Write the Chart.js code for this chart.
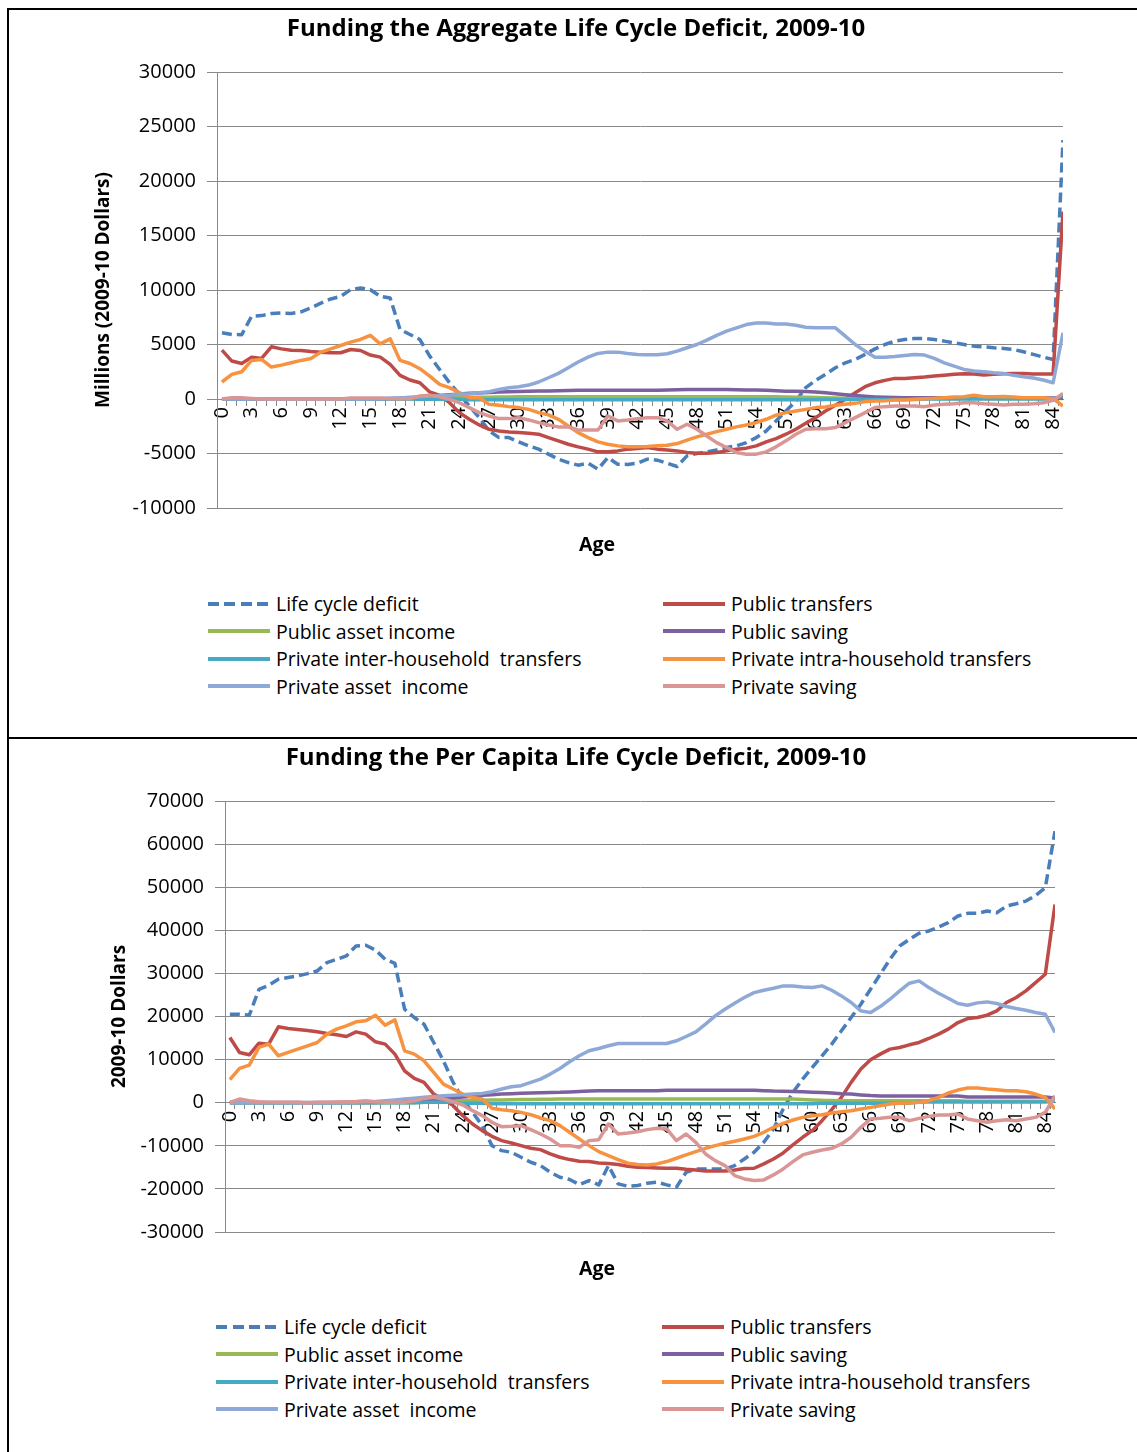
<!DOCTYPE html>
<html lang="en">
<head>
<meta charset="UTF-8">
<title>Funding the Life Cycle Deficit, 2009-10</title>
<style>
  * { margin: 0; padding: 0; box-sizing: border-box; }
  body {
    width: 1137px;
    height: 1452px;
    position: relative;
    overflow: hidden;
    background: #fff;
    font-family: 'Open Sans', 'DejaVu Sans', sans-serif;
    color: #000;
  }
  .rule { position: absolute; background: #000; z-index: 2; }
  .box { position: absolute; left: 0; width: 1137px; }
  .axis-name {
    position: absolute;
    width: 100px;
    margin-left: -50px;
    text-align: center;
    font-weight: bold;
    font-size: 19.5px;
    line-height: 22px;
  }
  .legend { position: absolute; display: grid; font-size: 19.5px; }
  .legend .item { display: flex; align-items: center; height: 27.5px; white-space: pre; }
  .legend .swatch { width: 62px; height: 4px; margin-right: 6px; flex: none; }
</style>
<script src="https://cdn.jsdelivr.net/npm/chart.js"></script>
</head>
<body>
  <div class="rule" style="left:7px; top:8px; width:1130px; height:2px;"></div>
  <div class="rule" style="left:7px; top:8px; width:2px; height:1444px;"></div>
  <div class="rule" style="left:7px; top:737px; width:1130px; height:2px;"></div>

  <div class="box" style="top:0; height:531px;"><canvas id="aggChart"></canvas></div>
  <div class="axis-name" style="left:597px; top:533px;">Age</div>
  <div class="legend" id="aggLegend" style="left:208px; top:590px; grid-template-columns:455px 430px;"></div>

  <div class="box" style="top:740px; height:515px;"><canvas id="capChart"></canvas></div>
  <div class="axis-name" style="left:597px; top:1257px;">Age</div>
  <div class="legend" id="capLegend" style="left:216px; top:1313px; grid-template-columns:446px 430px;"></div>

<script>
// ages 0..85
const ages = [0, 1, 2, 3, 4, 5, 6, 7, 8, 9, 10, 11, 12, 13, 14, 15, 16, 17, 18, 19,
  20, 21, 22, 23, 24, 25, 26, 27, 28, 29, 30, 31, 32, 33, 34, 35, 36, 37, 38, 39,
  40, 41, 42, 43, 44, 45, 46, 47, 48, 49, 50, 51, 52, 53, 54, 55, 56, 57, 58, 59,
  60, 61, 62, 63, 64, 65, 66, 67, 68, 69, 70, 71, 72, 73, 74, 75, 76, 77, 78, 79,
  80, 81, 82, 83, 84, 85];

const seriesNames = ['Life cycle deficit', 'Public transfers', 'Public asset income', 'Public saving',
  'Private inter-household  transfers', 'Private intra-household transfers', 'Private asset  income', 'Private saving'];
const seriesColors = ['#4A7EBB', '#BE4B48', '#98B954', '#7D60A0', '#46AAC5', '#F69240', '#8EA8D8', '#D99694'];

// aggregate, millions of 2009-10 dollars
const aggLcd = [6070, 5920, 5900, 7600, 7650, 7840, 7900, 7840, 8000, 8360,
  8800, 9180, 9420, 10030, 10190, 10030, 9420, 9270, 6370, 5920,
  5460, 3930, 2710, 1490, 430, -640, -1710, -2930, -3540, -3540,
  -3930, -4300, -4600, -5060, -5520, -5830, -6070, -5890, -6440, -5370,
  -5980, -6000, -5880, -5520, -5610, -5890, -6190, -5220, -5000, -4850,
  -4670, -4450, -4300, -4000, -3540, -2930, -2010, -1100, -180, 1040,
  1710, 2260, 2870, 3320, 3630, 4090, 4600, 5000, 5310, 5460,
  5550, 5550, 5460, 5310, 5150, 5000, 4850, 4790, 4700, 4640,
  4540, 4330, 4090, 3840, 3630, 23760];
const aggPublicTransfers = [4480, 3480, 3260, 3840, 3720, 4790, 4600, 4480, 4450, 4360,
  4300, 4240, 4240, 4540, 4450, 4030, 3840, 3170, 2170, 1740,
  1490, 640, 340, -340, -1250, -1860, -2380, -2780, -2930, -3020,
  -3080, -3140, -3230, -3540, -3840, -4150, -4390, -4600, -4850, -4850,
  -4760, -4600, -4540, -4450, -4600, -4670, -4760, -4910, -4970, -4970,
  -4910, -4760, -4600, -4510, -4300, -3930, -3630, -3230, -2780, -2230,
  -1710, -1100, -580, -30, 580, 1130, 1490, 1710, 1890, 1890,
  1950, 2010, 2100, 2170, 2260, 2320, 2290, 2200, 2260, 2320,
  2350, 2350, 2290, 2290, 2290, 17200];
const aggPublicAsset = [0, 0, 0, 0, 0, 0, 0, 0, 0, 0,
  0, 0, 0, 0, 0, 0, 0, 0, 10, 30,
  50, 70, 90, 110, 130, 150, 160, 170, 180, 190,
  200, 200, 200, 200, 200, 200, 200, 200, 200, 200,
  200, 200, 200, 200, 200, 200, 200, 200, 200, 200,
  200, 200, 200, 200, 200, 200, 200, 190, 170, 150,
  130, 110, 90, 80, 70, 60, 50, 50, 50, 50,
  50, 50, 50, 50, 50, 50, 50, 50, 50, 50,
  50, 50, 50, 50, 50, 40];
const aggPublicSaving = [0, 0, 0, 0, 0, 0, 0, 0, 0, 0,
  0, 0, 0, 0, 0, 0, 20, 40, 60, 100,
  150, 250, 330, 400, 460, 520, 560, 600, 640, 670,
  690, 710, 730, 740, 760, 780, 800, 800, 800, 800,
  800, 800, 800, 800, 800, 820, 850, 870, 870, 870,
  870, 870, 840, 820, 820, 810, 760, 720, 700, 690,
  650, 570, 480, 400, 320, 250, 190, 150, 130, 120,
  120, 120, 120, 120, 120, 120, 100, 100, 100, 100,
  100, 100, 100, 100, 100, 80];
const aggInterHousehold = [0, 0, 0, 0, 0, 0, 0, 0, 0, 0,
  0, 0, 0, 0, 0, 0, 0, 0, 0, 0,
  -20, -20, -20, -20, -20, -80, -80, -80, -80, -80,
  -80, -80, -80, -80, -80, -80, -80, -80, -80, -80,
  -80, -80, -80, -80, -80, -80, -80, -80, -80, -80,
  -80, -80, -80, -80, -80, -80, -80, -80, -80, -80,
  -80, -40, -40, -40, -40, -40, -40, -40, -40, -40,
  -40, 0, 0, 0, 0, 0, 0, 0, 0, 0,
  0, 0, 0, 0, 0, 300];
const aggIntraHousehold = [1560, 2260, 2500, 3540, 3630, 2930, 3110, 3320, 3540, 3720,
  4300, 4600, 4910, 5220, 5460, 5830, 5060, 5520, 3540, 3260,
  2780, 2100, 1340, 1040, 580, 120, 120, -490, -580, -700,
  -790, -950, -1250, -1460, -1860, -2470, -3080, -3540, -3930, -4150,
  -4300, -4390, -4390, -4360, -4300, -4240, -4090, -3780, -3480, -3230,
  -2990, -2780, -2560, -2380, -2170, -1860, -1490, -1250, -1100, -950,
  -790, -730, -580, -490, -400, -240, -180, -150, -90, -90,
  -30, 30, 60, 120, 180, 210, 340, 210, 210, 240,
  180, 120, 120, 120, 30, -640];
const aggPrivateAsset = [0, 0, 0, 0, 0, 0, 0, 0, 0, 0,
  0, 0, 0, 0, 0, 0, 30, 60, 100, 150,
  200, 270, 300, 340, 430, 490, 580, 670, 880, 1040,
  1130, 1280, 1560, 1950, 2350, 2870, 3390, 3840, 4180, 4300,
  4300, 4180, 4090, 4060, 4060, 4150, 4390, 4700, 5000, 5400,
  5830, 6220, 6530, 6830, 6980, 6980, 6890, 6890, 6770, 6590,
  6530, 6530, 6530, 5770, 5000, 4390, 3840, 3840, 3900, 4000,
  4090, 4030, 3720, 3320, 3020, 2710, 2560, 2500, 2410, 2350,
  2170, 2040, 1920, 1740, 1490, 6070];
const aggPrivateSaving = [0, 120, 120, 50, 0, 0, 0, 0, 0, 0,
  0, 0, 0, 100, 100, 100, 100, 30, 30, 30,
  270, 340, 210, -30, -340, -790, -1250, -1560, -1800, -1800,
  -1710, -1920, -2170, -2380, -2560, -2560, -2840, -2840, -2840, -1560,
  -2010, -1920, -1800, -1710, -1710, -2010, -2780, -2320, -2780, -3390,
  -4000, -4450, -4910, -5060, -5060, -4850, -4390, -3840, -3230, -2780,
  -2720, -2720, -2620, -2170, -1710, -1250, -790, -700, -640, -640,
  -640, -700, -550, -490, -430, -340, -340, -430, -490, -550,
  -490, -490, -430, -340, -120, 520];

// per capita, 2009-10 dollars
const capLcd = [20530, 20530, 20300, 26320, 27250, 28640, 29030, 29410, 29950, 30570,
  32500, 33270, 34050, 36360, 36520, 35430, 33270, 32350, 21690, 19760,
  18220, 13970, 9730, 4710, 850, -2240, -5330, -9960, -11120, -11500,
  -12660, -13820, -14590, -16130, -17290, -17830, -18990, -18060, -19070, -14590,
  -18840, -19380, -19220, -18680, -18450, -19070, -19610, -16130, -15360, -15360,
  -15360, -15360, -14590, -13050, -11500, -9190, -6100, -1470, 2390, 5480,
  8180, 10890, 13590, 16680, 19760, 22850, 26330, 29800, 33270, 36360,
  37900, 39300, 39840, 40760, 41770, 43310, 43930, 43930, 44470, 44080,
  45630, 46170, 46780, 48100, 49870, 63000];
const capPublicTransfers = [15130, 11660, 11120, 13820, 13590, 17600, 17220, 16980, 16750, 16440,
  16060, 15750, 15360, 16440, 15900, 14130, 13590, 11270, 7410, 5640,
  4710, 2010, 850, -690, -3010, -4940, -6480, -7800, -8800, -9340,
  -9960, -10580, -10890, -11890, -12660, -13200, -13590, -13660, -13970, -14130,
  -14360, -14740, -14980, -15050, -15130, -15210, -15210, -15440, -15590, -15830,
  -15830, -15830, -15590, -15290, -15210, -14200, -13050, -11660, -9800, -8030,
  -6480, -4170, -1620, 1240, 4710, 7800, 9960, 11270, 12430, 12820,
  13430, 13970, 14900, 15900, 17060, 18600, 19530, 19760, 20300, 21310,
  23240, 24400, 25940, 27870, 29800, 46010];
const capPublicAsset = [0, 0, 0, 0, 0, 0, 0, 0, 0, 0,
  0, 0, 0, 0, 0, 0, 0, 0, 0, 0,
  100, 200, 300, 400, 450, 500, 550, 600, 650, 700,
  730, 760, 790, 810, 830, 850, 850, 850, 850, 850,
  850, 850, 850, 850, 850, 850, 850, 850, 850, 850,
  850, 850, 850, 850, 850, 850, 850, 850, 850, 750,
  650, 550, 500, 450, 450, 450, 450, 450, 450, 450,
  450, 450, 450, 450, 450, 450, 350, 350, 350, 350,
  350, 350, 350, 350, 350, 300];
const capPublicSaving = [50, 50, 50, 50, 50, 50, 50, 50, 50, 50,
  50, 50, 50, 50, 50, 50, 100, 150, 250, 350,
  500, 700, 900, 1100, 1300, 1500, 1700, 1850, 2000, 2100,
  2200, 2250, 2300, 2350, 2400, 2500, 2600, 2700, 2750, 2750,
  2750, 2750, 2750, 2750, 2750, 2900, 2900, 2900, 2900, 2900,
  2900, 2900, 2900, 2900, 2900, 2800, 2700, 2650, 2600, 2550,
  2450, 2350, 2250, 2100, 2000, 1800, 1650, 1550, 1550, 1550,
  1550, 1550, 1550, 1550, 1550, 1550, 1300, 1300, 1300, 1300,
  1300, 1300, 1300, 1300, 1300, 1100];
const capInterHousehold = [0, 0, 0, 0, 0, 0, 0, 0, 0, 0,
  0, 0, 0, 0, 0, 0, 0, 0, 0, 0,
  100, 100, 100, 100, -100, -100, -100, -250, -250, -250,
  -250, -250, -250, -250, -250, -250, -250, -250, -250, -250,
  -250, -250, -250, -250, -250, -250, -250, -250, -250, -250,
  -250, -250, -250, -250, -250, -250, -250, -250, -250, -250,
  -250, -100, -100, -100, -100, -100, -100, -100, -100, -100,
  -100, 150, 150, 150, 150, 150, 150, 150, 150, 150,
  150, 150, 150, 150, 150, 400];
const capIntraHousehold = [5330, 7950, 8720, 12820, 13590, 10890, 11660, 12430, 13200, 13970,
  15900, 17060, 17830, 18760, 18990, 20300, 17990, 19220, 12040, 11270,
  9730, 7030, 4320, 3170, 2010, 1240, 850, -1310, -1620, -1850,
  -2240, -2780, -3550, -4170, -5330, -6870, -8410, -9960, -11350, -12270,
  -13200, -14050, -14360, -14440, -14200, -13660, -12890, -12120, -11350, -10580,
  -9960, -9420, -8960, -8410, -7800, -6870, -5710, -4790, -4010, -3400,
  -3010, -2780, -2390, -2080, -1850, -1470, -1080, -690, -310, -150,
  -80, 80, 460, 1240, 2240, 2930, 3400, 3400, 3170, 3010,
  2780, 2780, 2550, 2010, 1240, -1470];
const capPrivateAsset = [0, 0, 0, 0, 0, 0, 0, 0, 0, 0,
  0, 0, 0, 100, 200, 300, 460, 650, 850, 1050,
  1240, 1430, 1620, 1740, 1850, 2000, 2160, 2550, 3170, 3710,
  3940, 4710, 5480, 6640, 7950, 9500, 10890, 12040, 12580, 13200,
  13740, 13740, 13740, 13740, 13740, 13740, 14360, 15360, 16440, 18220,
  20150, 21690, 23080, 24400, 25550, 26090, 26560, 27100, 27100, 26870,
  26710, 27100, 26090, 24780, 23240, 21310, 20920, 22310, 24010, 25940,
  27720, 28260, 26710, 25400, 24240, 23010, 22620, 23160, 23390, 23010,
  22310, 21850, 21460, 20920, 20530, 16290];
const capPrivateSaving = [80, 850, 460, 230, 80, 80, 80, 80, -80, 80,
  80, 150, 230, 300, 460, 230, 80, 80, 80, 460,
  1000, 1240, 850, 230, -540, -1850, -3010, -4550, -5560, -5480,
  -5330, -6250, -7260, -8410, -9960, -9960, -10340, -8800, -8570, -4940,
  -7260, -7030, -6720, -6250, -5940, -6100, -8800, -7260, -9190, -11890,
  -13430, -14590, -16910, -17680, -18060, -17910, -16750, -15360, -13660, -12120,
  -11500, -10960, -10580, -9570, -8030, -5710, -3780, -3630, -3400, -3400,
  -4170, -3630, -3170, -2860, -2860, -2620, -3780, -4170, -4550, -4170,
  -3940, -4170, -3780, -3400, -2240, 1620];

const FONT = "'Open Sans', 'DejaVu Sans', sans-serif";
const GRID = '#898989';
Chart.defaults.font.family = FONT;
Chart.defaults.color = '#000';

function lineSets(values) {
  return seriesNames.map((name, i) => ({
    label: name,
    data: values[i],
    borderColor: seriesColors[i],
    backgroundColor: seriesColors[i],
    borderWidth: 3.5,
    borderDash: i === 0 ? [10, 5] : [],
    borderJoinStyle: 'round',
    pointRadius: 0,
    tension: 0,
    fill: false,
    order: seriesNames.length - i  // later series drawn on top, as in the original
  }));
}

function buildChart(id, values, cfg) {
  return new Chart(document.getElementById(id), {
    type: 'line',
    data: { labels: ages, datasets: lineSets(values) },
    options: {
      responsive: true,
      maintainAspectRatio: false,
      animation: false,
      layout: { padding: { left: cfg.padLeft, right: cfg.padRight, top: 0, bottom: 22 } },
      plugins: {
        legend: { display: false },
        tooltip: { enabled: false },
        title: {
          display: true,
          text: cfg.title,
          color: '#000',
          font: { size: 24, weight: 'bold' },
          padding: { top: cfg.titleTop, bottom: cfg.titleBottom }
        }
      },
      scales: {
        x: {
          type: 'linear',
          position: { y: 0 },
          min: -0.5,
          max: 85,
          afterBuildTicks: s => { s.ticks = ages.map(a => ({ value: a })); },
          ticks: {
            autoSkip: false,
            minRotation: 90,
            maxRotation: 90,
            padding: 2,
            font: { size: 20 },
            color: '#000',
            callback: v => (v % 3 === 0 && v < 85 ? String(v) : '')
          },
          grid: { drawOnChartArea: false, offset: true, tickLength: 6, color: GRID },
          border: { color: GRID }
        },
        y: {
          min: cfg.yMin,
          max: cfg.yMax,
          afterFit: s => { s.width = 128; },
          ticks: {
            stepSize: cfg.yStep,
            padding: 11,
            font: { size: 20 },
            color: '#000',
            callback: v => String(v)
          },
          grid: { color: GRID, tickLength: 10 },
          border: { color: GRID },
          title: {
            display: true,
            text: cfg.yTitle,
            color: '#000',
            font: { size: 19, weight: 'bold' },
            padding: { top: cfg.yTitlePad, bottom: 0 }
          }
        }
      }
    }
  });
}

function buildLegend(elId, chart) {
  const el = document.getElementById(elId);
  chart.data.datasets.forEach(ds => {
    const item = document.createElement('div');
    item.className = 'item';
    const sw = document.createElement('span');
    sw.className = 'swatch';
    if (ds.borderDash.length) {
      sw.style.background = `repeating-linear-gradient(90deg, ${ds.borderColor} 0 11px, transparent 11px 16.5px)`;
    } else {
      sw.style.background = ds.borderColor;
    }
    const txt = document.createElement('span');
    txt.textContent = ds.label;
    item.appendChild(sw);
    item.appendChild(txt);
    el.appendChild(item);
  });
}

const aggChart = buildChart('aggChart',
  [aggLcd, aggPublicTransfers, aggPublicAsset, aggPublicSaving,
   aggInterHousehold, aggIntraHousehold, aggPrivateAsset, aggPrivateSaving],
  {
    title: 'Funding the Aggregate Life Cycle Deficit, 2009-10',
    padLeft: 89, padRight: 74, titleTop: 14.6, titleBottom: 28.6,
    yMin: -10000, yMax: 30000, yStep: 5000,
    yTitle: 'Millions (2009-10 Dollars)', yTitlePad: 3.6
  });

const capChart = buildChart('capChart',
  [capLcd, capPublicTransfers, capPublicAsset, capPublicSaving,
   capInterHousehold, capIntraHousehold, capPrivateAsset, capPrivateSaving],
  {
    title: 'Funding the Per Capita Life Cycle Deficit, 2009-10',
    padLeft: 97, padRight: 82, titleTop: 3.6, titleBottom: 28.6,
    yMin: -30000, yMax: 70000, yStep: 10000,
    yTitle: '2009-10 Dollars', yTitlePad: 11.6
  });

buildLegend('aggLegend', aggChart);
buildLegend('capLegend', capChart);
</script>
</body>
</html>
